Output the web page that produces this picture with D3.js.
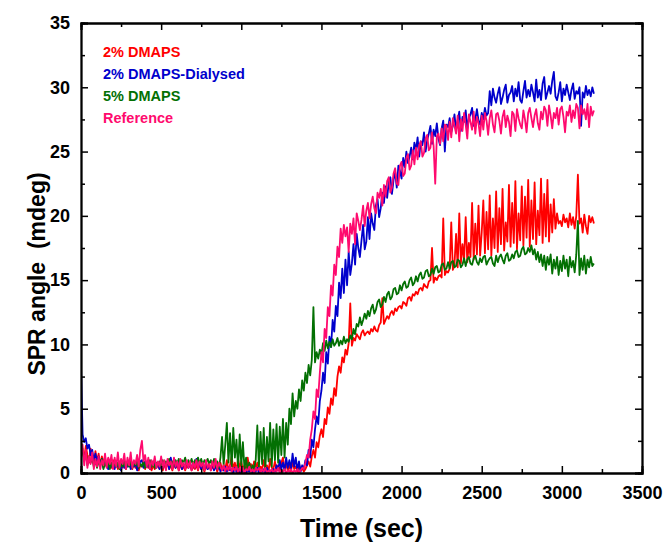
<!DOCTYPE html>
<html><head><meta charset="utf-8">
<script src="https://cdn.jsdelivr.net/npm/d3@7"></script>
<style>body{margin:0;background:#fff}svg{display:block}text{font-family:"Liberation Sans",Arial,sans-serif;font-weight:bold}</style>
</head><body><svg id="c" width="667" height="543"></svg>
<script>
const timeStep = 10; // seconds between samples
const seriesNames = ["2% DMAPS", "2% DMAPS-Dialysed", "5% DMAPS", "Reference"];
const seriesColors = ["#ff0000", "#0000cc", "#037003", "#ff0a6e"];
const xTicks = [0, 500, 1000, 1500, 2000, 2500, 3000, 3500];
const yTicks = [0, 5, 10, 15, 20, 25, 30, 35];

const red = [
2.0,1.6,1.2,2.1,1.4,0.8,1.9,1.1,0.7,1.7,
0.9,1.5,0.6,1.3,0.8,1.2,0.5,1.1,0.7,0.4,
1.0,0.5,0.8,0.3,0.9,0.6,0.4,0.8,0.3,0.7,
0.5,0.9,0.3,0.7,0.4,0.8,0.2,0.6,0.5,0.9,
0.3,0.7,0.4,0.8,0.2,0.6,0.3,0.7,0.5,0.3,
0.7,0.2,0.6,0.4,0.8,0.3,0.6,0.2,0.7,0.4,
0.6,0.2,0.7,0.3,0.5,0.2,0.6,0.4,0.7,0.2,
0.5,0.3,0.6,0.2,0.7,0.3,0.5,0.1,0.6,0.3,
0.7,0.2,0.5,0.3,0.6,0.1,0.5,0.8,0.2,0.6,
0.3,1.0,0.2,0.6,1.3,0.3,0.8,0.1,1.1,0.4,
0.9,0.2,0.6,0.1,1.2,0.3,0.7,0.2,0.9,0.4,
0.8,0.1,0.5,0.3,1.0,0.2,0.6,0.1,1.1,0.4,
0.3,0.9,0.2,0.6,0.1,0.8,1.2,0.3,0.7,0.2,
0.6,0.1,0.9,0.3,0.5,0.1,0.7,0.2,0.4,0.1,
0.3,0.6,0.9,0.5,1.3,1.8,1.2,2.4,2.0,2.9,
3.4,2.8,4.2,3.8,5.1,4.6,5.8,5.3,6.6,6.0,
7.5,8.3,7.8,9.0,8.6,9.6,9.2,10.1,13.2,9.9,
10.5,10.3,10.8,10.6,10.4,10.9,11.1,10.7,10.9,11.0,
10.8,11.2,11.0,11.4,11.1,11.0,11.5,11.7,13.6,11.6,
11.9,12.2,12.0,12.4,12.6,12.3,12.8,12.6,12.9,13.0,
12.8,13.3,13.2,13.0,13.6,13.7,13.4,13.9,13.8,14.1,
13.9,14.3,14.4,14.2,14.7,14.5,14.4,14.9,15.0,17.5,
14.8,15.2,15.0,15.3,15.4,15.2,19.8,15.4,15.7,15.6,
15.9,19.5,15.8,16.2,18.6,16.0,20.2,16.3,17.8,16.5,
19.9,16.4,17.9,16.8,21.0,16.6,19.4,17.0,20.8,16.9,
18.7,21.2,17.1,20.3,17.4,21.6,16.9,19.8,17.5,21.9,
17.2,20.6,17.8,22.1,17.3,19.5,18.0,22.4,17.6,21.0,
17.9,22.7,17.4,20.2,18.1,22.3,17.7,21.5,18.3,22.8,
17.6,21.2,18.2,22.6,17.8,20.4,18.5,22.9,17.9,21.7,
18.4,22.8,18.0,20.9,18.7,21.3,19.0,20.2,19.4,19.6,
19.2,20.1,19.5,19.8,19.1,20.2,19.3,19.9,19.0,20.0,
23.2,19.4,19.8,18.7,20.1,19.2,18.6,20.0,19.5,19.9,
19.4];
const blue = [
8.3,3.0,2.4,2.7,1.9,2.2,1.4,1.8,1.0,1.5,
0.8,1.3,0.6,1.1,0.4,0.9,0.7,0.3,0.9,0.5,
0.8,0.3,0.9,0.5,0.7,0.2,0.9,0.4,0.8,0.5,
0.9,0.3,0.7,0.5,0.8,0.2,0.6,0.9,1.0,0.4,
0.9,0.5,0.8,0.3,0.7,0.6,0.9,0.4,0.8,0.3,
1.0,0.4,0.8,0.5,0.9,0.3,1.2,0.5,0.8,0.4,
0.9,0.5,0.8,0.3,0.7,0.5,0.9,0.4,0.8,0.3,
0.8,0.4,1.1,0.5,0.7,0.3,0.8,0.4,0.7,0.3,
0.6,0.3,0.7,0.2,0.5,0.3,0.6,0.1,0.4,0.2,
0.5,0.1,0.4,0.2,0.3,0.0,0.4,0.1,0.3,0.0,
0.3,0.1,0.4,0.0,0.2,0.1,0.3,0.0,0.2,0.1,
0.4,0.0,0.2,0.1,0.3,0.0,0.4,0.1,0.2,0.0,
0.3,0.1,0.6,0.2,1.0,0.3,0.8,0.2,1.2,0.4,
1.0,0.3,1.5,0.5,1.2,0.2,0.9,0.1,0.6,0.3,
1.0,0.6,1.8,1.2,2.6,2.0,3.4,4.4,3.8,5.6,
6.4,7.8,7.0,9.4,8.5,10.6,9.8,11.9,11.0,13.0,
12.2,14.8,13.6,15.9,14.0,16.6,14.6,17.2,15.4,16.3,
17.8,16.2,18.6,17.5,16.8,18.1,19.3,17.4,18.0,19.9,
18.2,20.2,19.4,18.9,20.8,21.3,19.9,20.6,21.8,21.0,
22.3,21.4,22.6,23.0,21.7,22.8,23.4,22.2,23.9,23.5,
22.9,24.5,23.8,25.0,24.1,24.6,25.3,24.4,25.7,25.1,
26.1,24.6,25.8,25.5,26.5,25.0,25.9,26.4,27.0,25.6,
26.7,26.2,27.2,26.0,25.5,26.8,27.4,25.0,27.1,26.9,
27.6,26.5,27.0,27.9,26.7,27.4,28.1,26.6,27.7,27.3,
28.2,26.8,27.6,27.9,28.4,27.0,27.5,28.3,27.4,27.1,
28.0,27.5,28.4,27.8,28.0,29.7,28.6,29.9,29.2,28.8,
29.5,30.0,28.7,29.2,29.8,30.2,28.8,29.4,29.6,30.1,
28.9,29.9,29.3,30.4,29.0,28.8,29.7,30.5,29.2,29.8,
29.3,30.2,29.6,28.9,30.6,29.2,29.8,29.0,30.3,30.8,
29.1,29.6,30.1,29.5,30.5,31.2,29.3,29.0,29.6,30.4,
28.9,29.9,29.4,30.2,29.6,29.0,29.8,30.3,29.1,29.7,
29.5,30.0,27.0,29.6,29.2,30.1,29.4,29.8,29.3,30.0,
29.5];
const green = [
1.4,1.9,1.0,1.6,0.6,1.3,0.8,1.1,0.5,1.0,
0.4,0.9,0.6,1.1,0.3,0.8,0.5,0.9,0.3,0.8,
0.4,0.9,0.5,0.8,0.3,0.7,0.5,0.9,0.4,0.8,
0.5,0.9,0.4,0.8,0.6,0.9,0.4,0.7,0.5,0.9,
0.4,0.8,0.6,1.0,0.5,0.9,0.4,0.8,0.6,0.9,
0.5,1.0,0.6,0.9,0.7,1.1,0.5,0.9,0.6,1.0,
0.7,1.1,0.6,1.0,0.8,1.2,0.6,1.0,0.7,1.1,
0.6,1.0,0.8,1.2,0.7,1.1,0.6,1.0,0.8,1.1,
0.7,1.0,0.6,1.1,0.5,0.9,0.4,1.2,2.8,0.6,
2.2,3.9,0.8,3.1,0.5,3.5,1.2,2.6,0.4,3.0,
0.6,2.4,0.3,1.2,0.2,0.8,0.1,0.6,0.3,1.0,
3.7,0.4,3.2,0.7,3.5,0.3,2.8,0.9,3.9,0.5,
3.4,1.0,3.8,0.8,3.6,1.4,4.2,1.2,3.9,2.2,
5.0,3.8,6.2,4.4,5.6,5.0,6.5,5.6,7.2,6.4,
7.8,7.0,8.4,7.6,8.8,12.9,8.6,9.4,8.9,9.6,
9.2,10.1,9.5,10.3,9.7,10.2,9.8,10.4,9.9,10.1,
10.5,9.9,10.3,10.0,10.6,10.1,10.4,10.2,10.7,10.4,
11.2,10.8,11.6,11.4,12.1,11.5,11.9,12.4,12.0,12.6,
12.2,12.8,13.1,12.4,12.7,13.3,13.5,12.9,13.1,13.7,
13.3,13.9,14.1,13.5,13.7,14.3,14.4,13.9,14.0,14.6,
14.2,14.7,14.9,14.4,14.5,15.0,15.2,14.6,14.8,15.3,
14.9,15.4,15.6,15.1,15.2,15.7,15.8,15.3,15.4,15.9,
15.5,16.0,16.1,15.6,15.7,16.2,16.3,15.8,15.9,16.4,
15.9,16.4,16.5,16.0,16.1,16.6,16.5,16.0,16.2,16.7,
16.1,16.6,16.8,16.3,16.2,16.7,16.9,16.4,16.2,16.7,
16.4,16.8,16.9,16.2,16.5,16.7,16.8,16.3,16.1,16.9,
16.4,16.8,17.0,16.6,16.3,16.9,17.1,16.5,16.6,17.0,
16.7,17.2,17.3,16.8,16.9,17.4,17.6,17.0,17.1,17.5,
17.2,17.7,17.0,17.4,16.6,17.2,16.4,17.0,16.1,16.9,
15.8,16.8,16.2,17.0,15.5,16.6,15.9,16.8,15.4,16.5,
15.7,16.9,15.9,16.6,15.3,16.8,16.0,16.5,15.6,17.0,
19.6,15.4,16.7,15.8,16.9,15.5,16.6,16.0,16.8,16.1,
16.3];
const reference = [
1.5,2.2,0.6,1.8,0.4,1.3,0.7,1.6,0.3,1.1,
0.5,1.3,0.3,1.0,0.6,1.5,0.4,1.2,0.7,1.4,
0.3,1.2,0.5,1.6,0.4,1.1,0.7,1.5,0.3,1.2,
0.6,1.6,0.4,1.0,0.7,1.4,0.5,1.8,2.5,0.9,
1.4,0.5,1.2,0.3,1.0,0.6,1.3,0.4,0.9,0.5,
1.3,0.4,1.0,0.2,1.1,0.6,0.9,0.3,1.2,0.5,
0.9,0.2,1.1,0.5,0.8,0.3,1.0,0.4,0.9,0.2,
0.8,0.4,1.0,0.3,0.9,0.5,0.8,0.2,1.0,0.4,
0.7,0.2,0.9,0.4,1.1,0.3,0.8,0.5,0.2,0.6,
0.1,0.5,0.2,0.6,0.1,0.4,0.2,0.5,0.0,0.4,
0.1,0.4,0.0,0.3,0.2,0.5,0.1,0.3,0.0,0.4,
0.2,0.4,0.0,0.3,0.1,0.4,0.0,0.2,0.1,0.3,
0.0,0.3,0.1,0.4,0.0,0.2,0.1,0.3,0.0,0.2,
0.1,0.3,0.0,0.2,0.1,0.3,0.0,0.2,0.4,0.3,
0.8,1.4,1.2,2.6,3.4,4.8,4.2,6.5,5.9,7.8,
9.4,8.6,11.2,10.5,12.9,12.2,14.6,13.8,16.2,15.4,
17.6,16.8,19.0,17.9,19.3,18.4,19.1,17.2,19.4,18.6,
19.8,17.8,20.2,19.6,18.9,19.7,20.8,19.2,20.4,21.0,
19.8,20.9,21.5,20.6,20.2,21.8,21.4,22.1,20.8,22.4,
21.5,22.7,23.0,21.8,22.2,23.3,23.7,22.5,22.4,23.9,
24.2,23.1,23.3,24.5,24.8,23.6,23.9,25.1,24.0,25.3,
24.4,25.5,25.8,24.6,24.9,26.0,26.3,25.1,25.3,26.5,
25.4,22.5,26.2,26.4,25.6,26.8,25.8,27.1,27.0,25.9,
27.3,26.1,27.6,27.0,26.4,27.8,25.8,27.5,26.6,28.0,
27.1,26.0,27.9,27.3,26.7,28.1,26.4,27.7,27.2,26.2,
27.8,26.7,28.0,27.4,26.3,27.6,28.2,27.1,26.5,27.9,
28.0,27.4,26.4,27.7,28.2,26.9,27.8,27.3,26.2,28.1,
27.9,26.6,28.3,27.6,27.1,26.8,28.2,27.5,26.5,28.0,
28.4,27.6,26.9,27.8,28.3,27.2,26.7,28.1,27.5,28.5,
28.2,27.0,28.6,27.8,26.8,28.0,27.6,28.4,27.1,28.3,
28.5,27.7,26.5,28.1,27.8,28.6,27.3,28.2,27.6,28.7,
28.4,26.8,28.6,27.9,28.3,27.5,28.7,26.9,28.5,27.8,
28.2];

const seriesData = [red, blue, green, reference];

const svg = d3.select("#c");
const m = {l: 81, r: 642, t: 23, b: 473};
const x = d3.scaleLinear().domain([0, 3500]).range([m.l, m.r]);
const y = d3.scaleLinear().domain([0, 35]).range([m.b, m.t]);

svg.append("clipPath").attr("id","clip").append("rect")
  .attr("x", m.l).attr("y", m.t).attr("width", m.r - m.l).attr("height", m.b - m.t);

const line = d3.line().x((d,i) => x(i * timeStep)).y(d => y(d));
const g = svg.append("g").attr("clip-path","url(#clip)");
seriesData.forEach((arr, k) => {
  g.append("path").datum(arr).attr("d", line)
    .attr("fill","none").attr("stroke", seriesColors[k])
    .attr("stroke-width", 1.8).attr("stroke-linejoin","round");
});

const xMinor = d3.range(250, 3500, 500);
const yMinor = d3.range(2.5, 35, 5);
svg.append("g").attr("transform",`translate(0,${m.b})`)
  .call(d3.axisBottom(x).tickValues(xTicks).tickSize(-7).tickPadding(13).tickFormat(d3.format("d")));
svg.append("g").attr("transform",`translate(0,${m.t})`)
  .call(d3.axisTop(x).tickValues(xTicks).tickSize(-7).tickFormat(""));
svg.append("g").attr("transform",`translate(${m.l},0)`)
  .call(d3.axisLeft(y).tickValues(yTicks).tickSize(-7).tickPadding(11).tickFormat(d3.format("d")));
svg.append("g").attr("transform",`translate(${m.r},0)`)
  .call(d3.axisRight(y).tickValues(yTicks).tickSize(-7).tickFormat(""));
svg.append("g").attr("transform",`translate(0,${m.b})`).call(d3.axisBottom(x).tickValues(xMinor).tickSize(-4).tickFormat(""));
svg.append("g").attr("transform",`translate(0,${m.t})`).call(d3.axisTop(x).tickValues(xMinor).tickSize(-4).tickFormat(""));
svg.append("g").attr("transform",`translate(${m.l},0)`).call(d3.axisLeft(y).tickValues(yMinor).tickSize(-4).tickFormat(""));
svg.append("g").attr("transform",`translate(${m.r},0)`).call(d3.axisRight(y).tickValues(yMinor).tickSize(-4).tickFormat(""));
svg.selectAll(".domain").attr("stroke","#000").attr("stroke-width",1.8);
svg.selectAll(".tick line").attr("stroke","#000").attr("stroke-width",1.5);
svg.selectAll(".tick text").attr("fill","#000").style("font-size","18px").style("font-family","'Liberation Sans',Arial,sans-serif").style("font-weight","bold");

svg.append("text").attr("x", (m.l+m.r)/2).attr("y", 537).attr("text-anchor","middle")
  .style("font-size","25px").text("Time (sec)");
svg.append("text").attr("transform","translate(45,274) rotate(-90)").attr("text-anchor","middle")
  .style("font-size","23px").style("white-space","pre").text("SPR angle  (mdeg)");

seriesNames.forEach((n,k) => {
  svg.append("text").attr("x",103).attr("y",57 + k*22).attr("fill",seriesColors[k])
    .style("font-size","14.5px").text(n);
});
</script></body></html>
